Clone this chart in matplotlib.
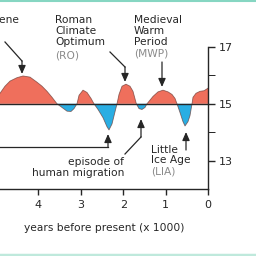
import numpy as np
import matplotlib
matplotlib.use("Agg")
import matplotlib.pyplot as plt
from matplotlib.lines import Line2D

# thousand years before present / temperature (deg C)
years_bp = [4.906, 4.788, 4.670, 4.505, 4.363, 4.198, 4.033, 3.915, 3.797, 3.679,
            3.561, 3.443, 3.325, 3.231, 3.160, 3.090, 3.042, 2.948, 2.854, 2.759,
            2.689, 2.594, 2.476, 2.382, 2.335, 2.264, 2.193, 2.146, 2.099, 2.028,
            1.934, 1.840, 1.769, 1.690, 1.627, 1.557, 1.486, 1.439, 1.297, 1.179,
            1.061, 0.943, 0.849, 0.778, 0.731, 0.660, 0.590, 0.542, 0.472, 0.425,
            0.377, 0.354, 0.283, 0.189, 0.094, 0.000]
temp = [15.37, 15.62, 15.80, 15.92, 15.98, 15.94, 15.76, 15.62, 15.44, 15.23,
        15.00, 14.87, 14.74, 14.73, 14.83, 15.00, 15.30, 15.48, 15.40, 15.19,
        15.00, 14.80, 14.51, 14.19, 14.08, 14.29, 14.72, 15.00, 15.33, 15.62,
        15.69, 15.62, 15.44, 15.00, 14.83, 14.80, 14.87, 15.00, 15.26, 15.42,
        15.48, 15.42, 15.33, 15.19, 15.00, 14.69, 14.37, 14.22, 14.37, 14.58,
        15.00, 15.23, 15.37, 15.44, 15.46, 15.55]

baseline = 15
x_ticks = [4, 3, 2, 1, 0]
y_major = [17, 15, 13]
y_minor = [16, 14]

RED = "#ef6f5c"
BLUE = "#2aaee3"
DARK = "#262626"
GREY = "#8a8a8a"

W = H = 256
fig = plt.figure(figsize=(2.56, 2.56), dpi=100)
ax = fig.add_axes([0, 1 - 189 / H, 208 / W, (189 - 47) / H])

x = np.array(years_bp)
y = np.array(temp)
ax.fill_between(x, baseline, y, where=y >= baseline, interpolate=True, color=RED, lw=0)
ax.fill_between(x, baseline, y, where=y <= baseline, interpolate=True, color=BLUE, lw=0)
ax.plot(x, y, color="#6a3832", lw=0.6, alpha=0.7)
ax.axhline(baseline, color=DARK, lw=1.0)

ax.set_xlim(4.906, 0)
ax.set_ylim(12, 17)
ax.spines["left"].set_visible(False)
ax.spines["top"].set_visible(False)
for s in ("right", "bottom"):
    ax.spines[s].set_color(DARK)
    ax.spines[s].set_linewidth(1.0)
ax.yaxis.tick_right()
ax.set_xticks(x_ticks)
ax.set_yticks(y_major)
ax.set_yticks(y_minor, minor=True)
ax.tick_params(axis="both", colors=DARK, labelsize=8, width=1.0)
ax.tick_params(axis="x", length=4, pad=4)
ax.tick_params(axis="y", which="major", length=5, pad=3)
ax.tick_params(axis="y", which="minor", length=5)
ax.set_facecolor("none")
ax.set_xlabel("years before present (x 1000)", fontsize=7.7, color=DARK, labelpad=9)


def px(xp, yp):
    return (xp / W, 1 - yp / H)


def leader(points, color=DARK):
    xs = [p[0] / W for p in points]
    ys = [1 - p[1] / H for p in points]
    fig.add_artist(Line2D(xs[:-1], ys[:-1], color=color, lw=0.9, transform=fig.transFigure))
    ax.annotate("", xy=px(*points[-1]), xycoords="figure fraction",
                xytext=px(*points[-2]), textcoords="figure fraction",
                arrowprops=dict(arrowstyle="-|>,head_length=0.5,head_width=0.22",
                                color=color, lw=0.9, shrinkA=0, shrinkB=0))


leader([(5, 42), (22, 61), (22, 74)])
leader([(110, 52), (125, 67), (125, 82)])
leader([(162, 62), (162, 87)])
leader([(0, 147), (108, 147), (108, 134)])
leader([(125, 154), (141, 137), (141, 119)])
leader([(186, 150), (186, 132)])

fs = 7.7
tkw = dict(fontsize=fs, color=DARK, ha="left", va="center")
fig.text(*px(-31, 20), "Holocene", **tkw)
for i, s in enumerate(["Roman", "Climate", "Optimum"]):
    fig.text(*px(55, 20 + 11 * i), s, **tkw)
fig.text(*px(55, 55), "(RO)", **{**tkw, "color": GREY})
for i, s in enumerate(["Medieval", "Warm", "Period"]):
    fig.text(*px(134, 20 + 11 * i), s, **tkw)
fig.text(*px(134, 54), "(MWP)", **{**tkw, "color": GREY})
fig.text(*px(124, 162), "episode of", **{**tkw, "ha": "right"})
fig.text(*px(124, 173), "human migration", **{**tkw, "ha": "right"})
fig.text(*px(151, 150), "Little", **tkw)
fig.text(*px(151, 160), "Ice Age", **tkw)
fig.text(*px(151, 172), "(LIA)", **{**tkw, "color": GREY})

fig.add_artist(Line2D([0, 1], [1 - 1 / H, 1 - 1 / H], color="#86d6c2", lw=1.5,
                      transform=fig.transFigure))
fig.add_artist(Line2D([0, 1], [1.5 / H, 1.5 / H], color="#bfe9dc", lw=2.5,
                      transform=fig.transFigure))

fig.savefig("out.png", dpi=100)
